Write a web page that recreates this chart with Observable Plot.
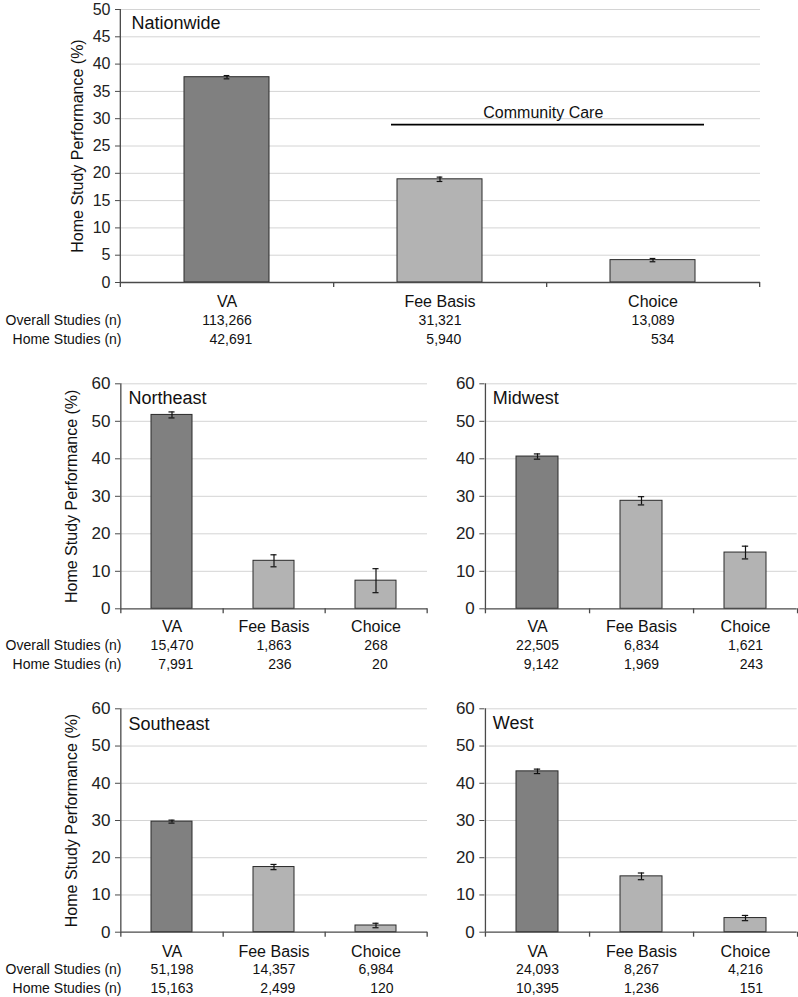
<!DOCTYPE html>
<html><head><meta charset="utf-8">
<script src="https://cdn.jsdelivr.net/npm/d3@7"></script>
<script src="https://cdn.jsdelivr.net/npm/@observablehq/plot@0.6"></script>
<style>
body{margin:0;background:#fff;}
#fig{position:relative;width:798px;height:997px;font-family:"Liberation Sans",Arial,Helvetica,sans-serif;}
#fig svg{position:absolute;overflow:visible;}
</style></head><body><div id="fig"></div>
<script>
const categories = ["VA", "Fee Basis", "Choice"];
const rowLabels = ["Overall Studies (n)", "Home Studies (n)"];
const yLabel = "Home Study Performance (%)";
const nationalTicks = [0, 5, 10, 15, 20, 25, 30, 35, 40, 45, 50];
const regionTicks = [0, 10, 20, 30, 40, 50, 60];
const communityCareLabel = "Community Care";
const communityCareLevel = 28.9;
const communityCareSpan = ["Fee Basis", "Choice"];

const nationwideValues = [37.6, 18.9, 4.1];
const nationwideErrors = [0.3, 0.4, 0.3];
const nationwideOverall = [113266, 31321, 13089];
const nationwideHome = [42691, 5940, 534];

const northeastValues = [51.7, 12.8, 7.5];
const northeastErrors = [0.8, 1.6, 3.2];
const northeastOverall = [15470, 1863, 268];
const northeastHome = [7991, 236, 20];

const midwestValues = [40.6, 28.8, 15.0];
const midwestErrors = [0.7, 1.1, 1.7];
const midwestOverall = [22505, 6834, 1621];
const midwestHome = [9142, 1969, 243];

const southeastValues = [29.7, 17.5, 1.8];
const southeastErrors = [0.4, 0.7, 0.6];
const southeastOverall = [51198, 14357, 6984];
const southeastHome = [15163, 2499, 120];

const westValues = [43.2, 15.0, 3.8];
const westErrors = [0.6, 0.9, 0.7];
const westOverall = [24093, 8267, 4216];
const westHome = [10395, 1236, 151];

const vaFill = "#808080", ccFill = "#b3b3b3", barStroke = "#2a2a2a";
const axisColor = "#4a4a4a", gridColor = "#d4d4d4", textColor = "#111";
const fmt = d3.format(",");
const numFont = 14;
function halfWidth(s) {
  let w = 0;
  for (const c of s) w += (c === "," ? 0.278 : 0.556);
  return w * numFont / 2;
}

function makePanel(o) {
  const data = categories.map((c, i) => ({cat: c, value: o.values[i], lo: o.values[i] - o.errors[i], hi: o.values[i] + o.errors[i]}));
  const fw = o.width - o.ml - o.mr;
  const step = fw / 3;
  const bw = step * 0.4;
  const capInset = (bw - 6) / 2;
  const ymax = o.ticks[o.ticks.length - 1];
  const marks = [
    Plot.gridY(o.ticks.slice(1), {stroke: gridColor, strokeOpacity: 1, strokeWidth: 1}),
    Plot.barY(data, {x: "cat", y: "value", fill: "cat", stroke: barStroke, strokeWidth: 1}),
    Plot.ruleX(data, {x: "cat", y1: "lo", y2: "hi", stroke: "#111", strokeWidth: 1.2}),
    Plot.tickY(data, {x: "cat", y: "lo", stroke: "#111", strokeWidth: 1.2, insetLeft: capInset, insetRight: capInset}),
    Plot.tickY(data, {x: "cat", y: "hi", stroke: "#111", strokeWidth: 1.2, insetLeft: capInset, insetRight: capInset}),
    Plot.ruleY([0], {stroke: axisColor, strokeWidth: 1.3}),
    Plot.ruleX([categories[0]], {x: d => d, dx: -step / 2, y1: 0, y2: ymax, stroke: axisColor, strokeWidth: 1.3}),
    Plot.axisX(categories, {tickSize: 5, tickFormat: () => "", dx: step / 2, stroke: axisColor, strokeWidth: 1.3, label: null}),
    Plot.axisX(categories.slice(0, 1), {tickSize: 5, tickFormat: () => "", dx: -step / 2, stroke: axisColor, strokeWidth: 1.3, label: null}),
    Plot.axisY(o.ticks, {tickSize: 5, tickPadding: 5, fontSize: o.tickFont, stroke: axisColor, fill: "#222", label: null}),
    Plot.text([o.title], {text: d => d, frameAnchor: "top-left", dx: o.titleDx, dy: o.titleDy, textAnchor: "start", lineAnchor: "middle", fontSize: 18, fill: textColor}),
    Plot.text(categories, {x: d => d, text: d => d, frameAnchor: "bottom", dy: o.rowDy[0], lineAnchor: "middle", fontSize: 16, fill: textColor}),
    Plot.text(categories, {x: d => d, text: (d, i) => fmt(o.overall[i]), frameAnchor: "bottom", dy: o.rowDy[1], lineAnchor: "middle", fontSize: numFont, fill: textColor})
  ];
  categories.forEach((c, i) => {
    marks.push(Plot.text([c], {x: d => d, text: () => fmt(o.home[i]), frameAnchor: "bottom", dy: o.rowDy[2], dx: halfWidth(fmt(o.overall[i])), textAnchor: "end", lineAnchor: "middle", fontSize: numFont, fill: textColor}));
  });
  if (o.showRowLabels) {
    rowLabels.forEach((r, k) => {
      marks.push(Plot.text([r], {text: d => d, frameAnchor: "bottom-left", dx: 1, dy: o.rowDy[k + 1], textAnchor: "end", lineAnchor: "middle", fontSize: 14, fill: textColor}));
    });
  }
  if (o.showYLabel) {
    marks.push(Plot.text([yLabel], {text: d => d, frameAnchor: "left", dx: o.yLabelDx, rotate: -90, textAnchor: "middle", lineAnchor: "middle", fontSize: 16, fill: textColor}));
  }
  if (o.annotation) {
    marks.push(Plot.ruleY([communityCareLevel], {y: d => d, x1: () => communityCareSpan[0], x2: () => communityCareSpan[1], insetLeft: -6, insetRight: -9, stroke: "#000", strokeWidth: 1.8}));
    marks.push(Plot.text([communityCareLabel], {x: () => communityCareSpan[1], y: () => communityCareLevel, text: d => d, dx: -step / 2 - 3, dy: -12, lineAnchor: "middle", fontSize: 16, fill: textColor}));
  }
  const svg = Plot.plot({
    width: o.width, height: o.height,
    marginLeft: o.ml, marginRight: o.mr, marginTop: o.mt, marginBottom: o.mb,
    x: {domain: categories, paddingInner: 0.6, paddingOuter: 0.3, label: null},
    y: {domain: [0, ymax], label: null},
    color: {domain: categories, range: [vaFill, ccFill, ccFill]},
    style: {fontFamily: '"Liberation Sans", Arial, Helvetica, sans-serif', background: "transparent", color: textColor},
    marks
  });
  svg.style.left = o.left + "px";
  svg.style.top = o.top + "px";
  document.getElementById("fig").appendChild(svg);
}

const fig = document.getElementById("fig");
makePanel({title: "Nationwide", values: nationwideValues, errors: nationwideErrors, overall: nationwideOverall, home: nationwideHome,
  ticks: nationalTicks, left: 0, top: 0, width: 798, height: 350, ml: 120, mr: 38, mt: 9, mb: 68,
  tickFont: 16, titleDx: 11, titleDy: 14, rowDy: [19, 38, 57], showRowLabels: true, showYLabel: true, yLabelDx: -43, annotation: true});
makePanel({title: "Northeast", values: northeastValues, errors: northeastErrors, overall: northeastOverall, home: northeastHome,
  ticks: regionTicks, left: 0, top: 360, width: 430, height: 320, ml: 120, mr: 3, mt: 23.3, mb: 71.7,
  tickFont: 17, titleDx: 8, titleDy: 14.5, rowDy: [18.5, 37, 56], showRowLabels: true, showYLabel: true, yLabelDx: -49});
makePanel({title: "Midwest", values: midwestValues, errors: midwestErrors, overall: midwestOverall, home: midwestHome,
  ticks: regionTicks, left: 430, top: 360, width: 368, height: 320, ml: 54.3, mr: 1.3, mt: 23.3, mb: 71.7,
  tickFont: 17, titleDx: 8, titleDy: 14.5, rowDy: [18.5, 37, 56], showRowLabels: false, showYLabel: false});
makePanel({title: "Southeast", values: southeastValues, errors: southeastErrors, overall: southeastOverall, home: southeastHome,
  ticks: regionTicks, left: 0, top: 685, width: 430, height: 312, ml: 120, mr: 3, mt: 23.3, mb: 65.3,
  tickFont: 17, titleDx: 8, titleDy: 15, rowDy: [20, 37.6, 56.6], showRowLabels: true, showYLabel: true, yLabelDx: -49});
makePanel({title: "West", values: westValues, errors: westErrors, overall: westOverall, home: westHome,
  ticks: regionTicks, left: 430, top: 685, width: 368, height: 312, ml: 54.3, mr: 1.3, mt: 23.3, mb: 65.3,
  tickFont: 17, titleDx: 8, titleDy: 14, rowDy: [20, 37.6, 56.6], showRowLabels: false, showYLabel: false});
</script></body></html>
